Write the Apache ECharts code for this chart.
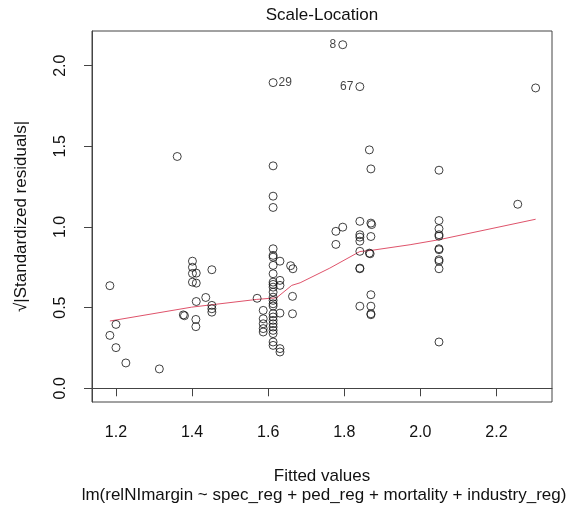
<!DOCTYPE html>
<html>
<head>
<meta charset="utf-8">
<script src="https://cdn.jsdelivr.net/npm/echarts@6/dist/echarts.min.js"></script>
<style>html,body{margin:0;padding:0;background:#fff;}#c{width:578px;height:512px;}</style>
</head>
<body>
<div id="c"></div>
<script>
// Fitted values (x) and sqrt(|standardized residuals|) (y)
const fitted = [
  1.184,1.200,1.184,1.200,1.226,1.314,1.361,
  1.377,1.380,1.401,1.401,1.401,1.411,1.401,1.411,1.411,1.436,1.410,1.410,1.452,1.452,1.452,1.452,
  1.571,
  1.613,1.613,1.613,1.613,1.613,1.613,1.613,1.613,1.613,1.613,1.613,1.613,1.613,1.613,1.613,1.613,1.613,1.613,1.613,1.613,1.613,1.613,1.613,1.613,1.613,1.613,
  1.587,1.587,1.587,1.587,1.587,
  1.631,1.631,1.631,1.631,1.631,1.631,
  1.659,1.665,1.664,1.664,
  1.778,1.796,1.778,1.796,
  1.841,1.841,1.841,1.841,1.841,1.841,1.841,1.841,1.841,
  1.866,1.870,1.870,1.872,1.870,1.866,1.868,1.870,1.870,1.870,1.870,
  2.049,2.049,2.049,2.049,2.049,2.049,2.049,2.049,2.049,2.049,2.049,
  2.256,2.303
];
const sqrtStdRes = [
  0.636,0.396,0.328,0.252,0.157,0.120,1.437,
  0.455,0.450,0.788,0.750,0.712,0.714,0.658,0.652,0.538,0.563,0.427,0.382,0.735,0.514,0.493,0.472,
  0.558,
  1.895,1.379,1.191,1.121,0.865,0.824,0.813,0.762,0.710,0.658,0.644,0.627,0.596,0.565,0.545,0.524,0.510,0.462,0.442,0.421,0.400,0.380,0.359,0.339,0.287,0.266,
  0.483,0.431,0.400,0.370,0.349,
  0.788,0.669,0.638,0.466,0.246,0.225,
  0.760,0.741,0.570,0.462,
  0.973,0.999,0.892,2.130,
  1.870,1.035,0.952,0.937,0.912,0.849,0.745,0.741,0.509,
  1.478,1.360,1.024,1.015,0.941,0.838,0.834,0.580,0.509,0.462,0.456,
  1.352,1.040,0.989,0.952,0.943,0.865,0.859,0.797,0.788,0.741,0.287,
  1.141,1.862
];
// Identified observations: [label, fitted, sqrtStdRes, side]
const idLabels = ['8','29','67'];
const idFitted = [1.796,1.613,1.841];
const idRes = [2.130,1.895,1.870];
const idSide = ['left','right','left'];

// Lowess smoother
const smoothX = [1.184,1.399,1.570,1.622,1.662,1.684,1.762,1.841,1.868,1.973,2.049,2.303];
const smoothY = [0.417,0.503,0.551,0.561,0.638,0.654,0.745,0.848,0.854,0.890,0.921,1.048];

const xTicks = [1.2,1.4,1.6,1.8,2.0,2.2];
const yTicks = [0.0,0.5,1.0,1.5,2.0];

const FONT = 'Liberation Sans';
const points = fitted.map((x,i)=>{
  const y = sqrtStdRes[i];
  const k = idLabels.findIndex((_,j)=>idFitted[j]===x && idRes[j]===y);
  const d = {value:[x,y]};
  if (k >= 0) {
    d.label = {show:true, formatter: idLabels[k], position: idSide[k], distance: idSide[k]==='left'?2:1,
      fontSize:12, color:'#111', fontFamily:FONT};
  }
  return d;
});

const chart = echarts.init(document.getElementById('c'), null, {renderer:'canvas'});
chart.setOption({
  animation:false,
  backgroundColor:'#fff',
  title:[
    {text:'Scale-Location', left:322, top:7, textAlign:'center', padding:0,
     textStyle:{fontFamily:FONT, fontSize:17, fontWeight:'normal', color:'#111'}},
    {text:'lm(relNImargin ~ spec_reg + ped_reg + mortality + industry_reg)', left:324, top:487, textAlign:'center', padding:0,
     textStyle:{fontFamily:FONT, fontSize:17, fontWeight:'normal', color:'#111'}}
  ],
  grid:{left:92, right:26, top:31, bottom:110, show:true, borderColor:'#444', borderWidth:1, backgroundColor:'transparent'},
  xAxis:{
    type:'value', min:1.137, max:2.346,
    name:'Fitted values', nameLocation:'middle', nameGap:66,
    nameTextStyle:{fontFamily:FONT, fontSize:17, color:'#111'},
    axisLine:{show:true, lineStyle:{color:'#444'}},
    axisTick:{show:true, length:8, lineStyle:{color:'#444'}, customValues:xTicks},
    axisLabel:{fontFamily:FONT, fontSize:16, color:'#111', margin:23, customValues:xTicks,
      formatter:v=>v.toFixed(1)},
    splitLine:{show:false}
  },
  yAxis:{
    type:'value', min:-0.085, max:2.215,
    name:'√|Standardized residuals|', nameLocation:'middle', nameGap:62, nameRotate:90,
    nameTextStyle:{fontFamily:FONT, fontSize:17, color:'#111'},
    axisLine:{show:true, lineStyle:{color:'#444'}},
    axisTick:{show:true, length:8, lineStyle:{color:'#444'}, customValues:yTicks},
    axisLabel:{fontFamily:FONT, fontSize:16, color:'#111', margin:23, rotate:90, customValues:yTicks,
      formatter:v=>v.toFixed(1)},
    splitLine:{show:false}
  },
  series:[
    {type:'scatter', data:points, symbol:'circle', symbolSize:8,
     itemStyle:{color:'rgba(0,0,0,0)', borderColor:'#111', borderWidth:1}, z:3},
    {type:'line', data:smoothX.map((x,i)=>[x,smoothY[i]]), symbol:'none', smooth:false,
     lineStyle:{color:'#DF536B', width:1}, z:2}
  ]
});
</script>
</body>
</html>
